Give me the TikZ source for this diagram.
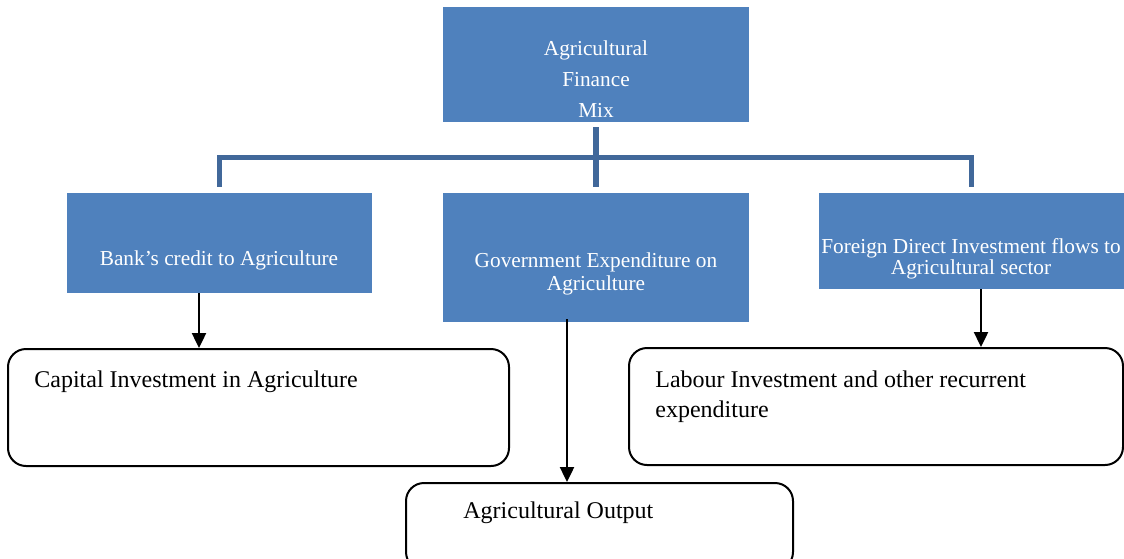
\documentclass[tikz,border=0pt]{standalone}
\usepackage{fontspec}
\setmainfont{Liberation Serif}
\usetikzlibrary{arrows.meta}
\definecolor{boxblue}{HTML}{4F81BD}
\definecolor{busblue}{HTML}{41689A}
\begin{document}
\begin{tikzpicture}[x=0.5pt,y=-0.5pt,
  bluebox/.style={rectangle, fill=boxblue, draw=none, inner sep=0pt},
  bluetext/.style={text=white, font=\fontsize{10.65}{12}\selectfont, inner sep=0pt, anchor=base},
  roundbox/.style={rectangle, rounded corners=9pt, draw=black, line width=1pt, fill=white, inner sep=0pt},
  plaintext/.style={text=black, font=\fontsize{12}{14}\selectfont, inner sep=0pt, anchor=base west},
  bus/.style={draw=busblue, line width=2.6pt},
  flow/.style={draw=black, line width=1.2pt, -{Triangle[width=7pt,length=7.5pt]}}]
\useasboundingbox (0,0) rectangle (1124,558);

% blue source boxes
\node[bluebox, minimum width=153pt, minimum height=57.5pt] (mix) at (596,64.5) {};
\node[bluebox, minimum width=152.5pt, minimum height=50pt] (bank) at (219.5,243) {};
\node[bluebox, minimum width=153pt, minimum height=64.5pt] (gov) at (596,257.5) {};
\node[bluebox, minimum width=152.5pt, minimum height=48pt] (fdi) at (971.5,241) {};

% their labels
\node[bluetext] (mix1) at (596,55) {Agricultural};
\node[bluetext] (mix2) at (596,86) {Finance};
\node[bluetext] (mix3) at (596,117) {Mix};
\node[bluetext] (bank1) at (219,265) {Bank’s credit to Agriculture};
\node[bluetext] (gov1) at (596,267) {Government Expenditure on};
\node[bluetext] (gov2) at (596,290) {Agriculture};
\node[bluetext] (fdi1) at (971,253) {Foreign Direct Investment flows to};
\node[bluetext] (fdi2) at (971,274) {Agricultural sector};

% rounded outcome boxes
\node[roundbox, minimum width=250.5pt, minimum height=58.5pt] (capital) at (258.5,407.5) {};
\node[roundbox, minimum width=247pt, minimum height=58.5pt] (labour) at (876,406.5) {};
\node[roundbox, minimum width=193.5pt, minimum height=43.5pt] (output) at (599.5,526.5) {};

\node[plaintext] (capital1) at (34,387) {Capital Investment in Agriculture};
\node[plaintext] (labour1) at (655,387) {Labour Investment and other recurrent};
\node[plaintext] (labour2) at (655,417) {expenditure};
\node[plaintext] (output1) at (463,518) {Agricultural Output};

% distribution bus
\coordinate (busmid) at (596,157.5);
\draw[bus] ([yshift=-2.5pt]mix.south) -- ([yshift=3pt]gov.north);
\draw[bus] ([yshift=3pt]bank.north) -- (bank.north |- busmid) -- (fdi.north |- busmid) -- ([yshift=3pt]fdi.north);

% flows
\draw[flow] (bank.south -| 199,0) -- (capital.north -| 199,0);
\draw[flow] ([yshift=1.5pt]gov.south -| 567,0) -- (output.north -| 567,0);
\draw[flow] (fdi.south -| 981,0) -- (labour.north -| 981,0);
\end{tikzpicture}
\end{document}
